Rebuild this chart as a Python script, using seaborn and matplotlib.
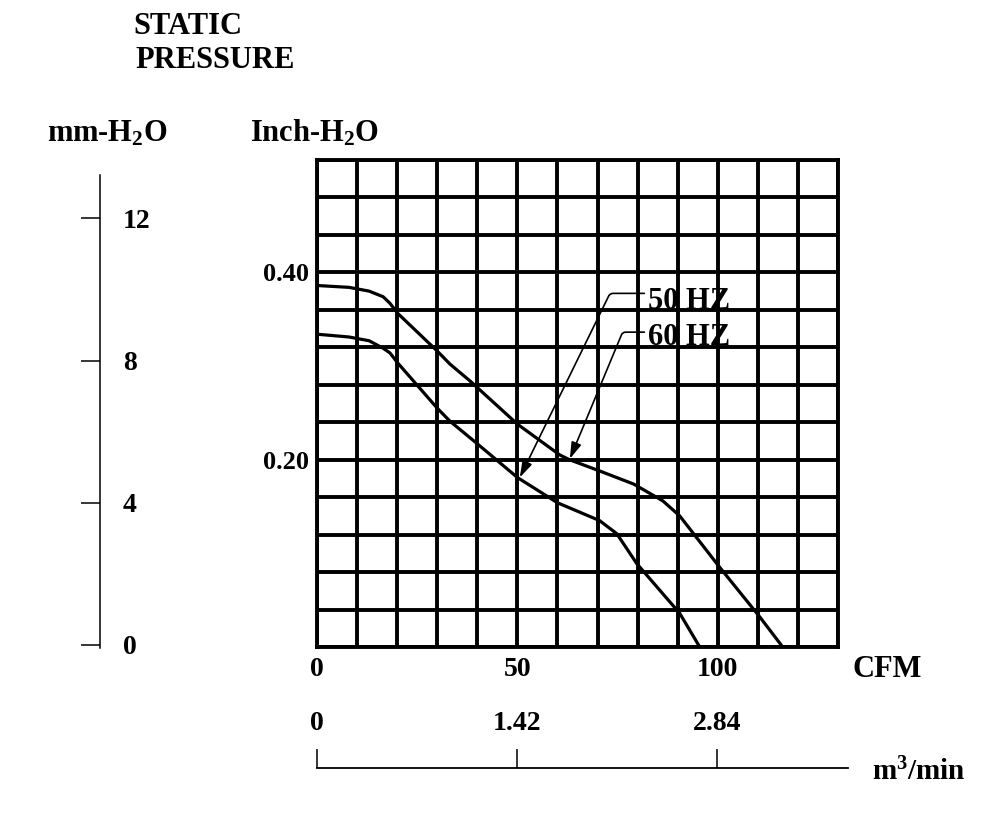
import numpy as np
import pandas as pd
import matplotlib
matplotlib.use("Agg")
import matplotlib.pyplot as plt
import seaborn as sns

# Fan curve: airflow (CFM) vs static pressure (inch-H2O)
cfm_60hz = [0, 8, 13, 16.5, 18.2, 20.2, 30, 33.2, 38.2, 40, 50, 60.6, 63, 70.5,
            79, 86.3, 90.5, 100.5, 110.5, 116.2]
pres_60hz = [0.386, 0.384, 0.380, 0.374, 0.367, 0.356, 0.316, 0.302, 0.284, 0.277,
             0.238, 0.205, 0.200, 0.188, 0.174, 0.156, 0.140, 0.085, 0.032, 0.0]
cfm_50hz = [0, 8, 13, 16.5, 18.2, 20.2, 30, 33.2, 40, 50, 60, 70.5, 74.8, 79.8,
            90.5, 95.5]
pres_50hz = [0.334, 0.331, 0.327, 0.319, 0.314, 0.303, 0.255, 0.241, 0.217, 0.181,
             0.154, 0.135, 0.121, 0.089, 0.036, 0.0]

cfm_ticks = [0, 50, 100]
cfm_tick_labels = ["0", "50", "100"]
inch_ticks = [0.20, 0.40]
inch_tick_labels = ["0.20", "0.40"]
mm_ticks = [0, 4, 8, 12]
mm_tick_labels = ["0", "4", "8", "12"]
m3_ticks = [0, 1.42, 2.84]
m3_tick_labels = ["0", "1.42", "2.84"]

# label, text position (CFM, inch), arrow tip on curve (CFM, inch), leader angle, attach height
callouts = [
    ("50 HZ", (82.5, 0.3606), (50.6, 0.181), 63.9, 0.79),
    ("60 HZ", (82.5, 0.3223), (63.1, 0.201), 67.4, 0.69),
]

m3_per_cfm = 1.42 / 50

df = pd.concat([
    pd.DataFrame({"cfm": cfm_60hz, "pressure": pres_60hz, "freq": "60 HZ"}),
    pd.DataFrame({"cfm": cfm_50hz, "pressure": pres_50hz, "freq": "50 HZ"}),
])

sns.set_style("white")
plt.rcParams["font.family"] = ["Liberation Serif", "DejaVu Serif"]
plt.rcParams["font.weight"] = "bold"
plt.rcParams["mathtext.fontset"] = "custom"
plt.rcParams["mathtext.rm"] = "Liberation Serif:bold"
plt.rcParams["mathtext.it"] = "Liberation Serif:bold"
plt.rcParams["mathtext.bf"] = "Liberation Serif:bold"
plt.rcParams["mathtext.default"] = "rm"
for key in ["text.color", "axes.labelcolor", "xtick.color", "ytick.color", "axes.edgecolor"]:
    plt.rcParams[key] = "black"

W, H = 1000, 818
fig = plt.figure(figsize=(W / 100, H / 100), dpi=100)

def fx(px):
    return px / W

def fy(py):
    return 1 - py / H

# main grid
ax = fig.add_axes([fx(317), fy(647), fx(838 - 317), (647 - 160) / H])
sns.lineplot(data=df, x="cfm", y="pressure", units="freq", estimator=None,
             sort=False, color="black", lw=2.3, ax=ax)
ax.set_xlim(0, 130)
ax.set_ylim(0, 0.52)
ax.set_xticks(cfm_ticks, cfm_tick_labels)
ax.set_xticks(np.arange(0, 131, 10), minor=True)
ax.set_yticks(inch_ticks, inch_tick_labels)
ax.set_yticks(np.linspace(0, 0.52, 14), minor=True)
ax.grid(which="both", color="black", lw=2.8)
ax.tick_params(which="both", length=0)
ax.tick_params(axis="x", labelsize=20, pad=7)
ax.tick_params(axis="y", labelsize=19, pad=6)
for s in ax.spines.values():
    s.set_visible(True)
    s.set_color("black")
    s.set_linewidth(2.8)
ax.set_xlabel("")
ax.set_ylabel("")

for name, txt, tip, ang, rel in callouts:
    ax.annotate(name, xy=tip, xytext=txt, fontsize=22, ha="left", va="baseline",
                arrowprops=dict(arrowstyle="-|>,head_length=0.45,head_width=0.14",
                                color="black", lw=1.2, shrinkA=0, shrinkB=0,
                                relpos=(0, rel),
                                connectionstyle=f"angle,angleA=0,angleB={ang},rad=3"))

# left mm-H2O scale
mm_px = 35.55
axm = fig.add_axes([fx(100), fy(648), 0.0005, (648 - 175) / H])
axm.set_ylim(-3 / mm_px, (645 - 175) / mm_px)
axm.set_xticks([])
axm.set_yticks(mm_ticks, mm_tick_labels)
axm.tick_params(axis="y", left=True, right=False, labelleft=False, labelright=True,
                direction="out", length=14, width=1.1, labelsize=20, pad=2)
for k, s in axm.spines.items():
    s.set_visible(k == "left")
axm.spines["left"].set_linewidth(1.1)
axm.patch.set_visible(False)

# bottom m3/min scale
axb = fig.add_axes([fx(317), fy(768) - 0.0005, fx(848 - 317), 0.0005])
axb.set_xlim(0, (848 - 317) / 4.0 * m3_per_cfm)
axb.set_yticks([])
axb.set_xticks(m3_ticks, m3_tick_labels)
axb.tick_params(axis="x", bottom=False, top=True, labelbottom=False, labeltop=True,
                direction="out", length=14, width=1.1, labelsize=20, pad=9)
for k, s in axb.spines.items():
    s.set_visible(k == "top")
axb.spines["top"].set_linewidth(1.3)
axb.patch.set_visible(False)

# titles and unit labels
fig.text(fx(133), fy(34), "STATIC", fontsize=22)
fig.text(fx(135), fy(68), "PRESSURE", fontsize=22)
fig.text(fx(47), fy(142), "mm-H$_2$O", fontsize=22)
fig.text(fx(250), fy(142), "Inch-H$_2$O", fontsize=22)
fig.text(fx(852), fy(677), "CFM", fontsize=22)
fig.text(fx(872), fy(780), "m$^3$/min", fontsize=21)

fig.savefig("out.png", dpi=100)
